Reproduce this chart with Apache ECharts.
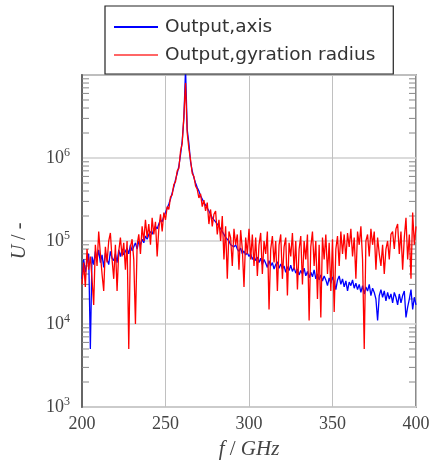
<!DOCTYPE html>
<html><head><meta charset="utf-8">
<script src="https://cdn.jsdelivr.net/npm/echarts@6/dist/echarts.min.js"></script>
<style>html,body{margin:0;padding:0;background:#fff}#c{width:435px;height:465px}</style>
</head><body><div id="c"></div>
<script>
// Frequency grid, GHz (200..400 step 1)
const freqStart = 200, freqStep = 1;
const axisValues = [
3.5e4,6.0e4,4.2e4,5.5e4,7.0e4,5.0e3,6.5e4,5.2e4,7.5e4,6.0e4,
7.8e4,5.5e4,6.8e4,4.8e4,7.2e4,6.0e4,5.2e4,7.5e4,6.2e4,5.8e4,
7.0e4,5.5e4,7.8e4,6.5e4,8.0e4,6.8e4,7.5e4,8.2e4,7.0e4,9.0e4,
7.6e4,8.5e4,9.5e4,8.0e4,1.0e5,9.0e4,1.05e5,9.5e4,1.15e5,1.05e5,
1.2e5,1.3e5,1.2e5,1.4e5,1.5e5,1.4e5,1.6e5,1.8e5,1.7e5,2.0e5,
2.2e5,2.5e5,2.8e5,3.2e5,3.8e5,4.5e5,5.5e5,6.5e5,8.0e5,1.1e6,
1.6e6,3.0e6,1.2e7,2.2e6,1.5e6,9.0e5,7.0e5,5.8e5,5.0e5,4.4e5,
4.0e5,3.5e5,3.2e5,2.9e5,2.7e5,2.5e5,2.3e5,2.2e5,1.9e5,2.0e5,
1.7e5,1.6e5,1.5e5,1.4e5,1.35e5,1.2e5,1.1e5,1.15e5,1.0e5,9.0e4,
9.5e4,8.5e4,9.0e4,8.0e4,7.5e4,8.2e4,7.0e4,7.6e4,6.8e4,7.2e4,
6.5e4,7.0e4,6.0e4,6.6e4,5.8e4,6.4e4,5.5e4,6.2e4,5.2e4,6.0e4,
5.4e4,4.8e4,5.8e4,5.0e4,5.5e4,4.6e4,5.2e4,5.6e4,4.7e4,5.3e4,
4.6e4,5.0e4,4.2e4,4.9e4,4.4e4,5.1e4,4.3e4,4.8e4,4.1e4,4.6e4,
3.9e4,4.4e4,4.0e4,4.7e4,3.8e4,4.3e4,3.6e4,4.2e4,3.7e4,4.5e4,
3.5e4,4.0e4,3.4e4,3.9e4,3.3e4,3.8e4,3.4e4,2.9e4,3.6e4,3.1e4,
3.7e4,3.2e4,2.6e4,3.4e4,3.8e4,3.0e4,3.5e4,2.8e4,3.3e4,2.5e4,
3.2e4,2.9e4,3.4e4,2.7e4,3.1e4,2.6e4,3.0e4,2.4e4,2.9e4,2.3e4,
2.8e4,2.5e4,3.0e4,2.2e4,2.7e4,2.4e4,2.0e4,1.1e4,2.2e4,2.6e4,
2.1e4,2.5e4,1.9e4,2.4e4,2.0e4,2.3e4,1.8e4,2.4e4,2.1e4,1.7e4,
2.3e4,1.8e4,2.2e4,2.5e4,1.2e4,1.6e4,2.0e4,2.6e4,1.5e4,2.1e4,
1.7e4
];
const gyrationValues = [
3.0e4,5.5e4,2.8e4,8.0e4,4.5e4,6.5e4,3.5e4,1.7e4,9.0e4,5.0e4,
1.3e5,7.0e4,4.0e4,2.5e4,8.5e4,5.5e4,1.0e5,1.25e5,6.0e4,3.5e4,
9.0e4,2.5e4,7.5e4,1.1e5,6.5e4,9.5e4,4.5e4,1.0e5,5.0e3,8.5e4,
1.05e5,6.0e4,1.0e4,9.0e4,1.2e5,7.0e4,1.5e5,1.0e5,1.8e5,1.1e5,
1.6e5,9.0e4,1.9e5,1.2e5,1.7e5,6.5e4,1.4e5,2.1e5,1.3e5,2.2e5,
1.8e5,2.6e5,2.4e5,3.4e5,3.6e5,4.8e5,5.2e5,7.0e5,7.5e5,1.2e6,
1.5e6,3.2e6,8.0e6,2.0e6,1.3e6,9.5e5,6.5e5,6.0e5,4.6e5,4.2e5,
3.3e5,3.7e5,2.6e5,3.1e5,2.3e5,2.9e5,1.6e5,2.4e5,1.5e5,2.1e5,
2.3e5,1.2e5,1.8e5,1.0e5,2.0e5,6.0e4,1.5e5,3.5e4,1.3e5,1.1e5,
5.0e4,1.4e5,9.0e4,1.2e5,4.5e4,1.35e5,8.0e4,2.8e4,1.1e5,7.0e4,
1.4e5,6.0e4,1.2e5,5.0e4,1.1e5,3.8e4,9.0e4,1.25e5,4.0e4,1.0e5,
7.0e4,1.3e5,1.5e4,8.0e4,1.15e5,5.5e4,1.0e5,2.5e4,9.0e4,1.2e5,
3.5e4,8.5e4,1.1e5,2.2e4,9.5e4,6.5e4,1.25e5,4.5e4,1.0e5,2.6e4,
8.0e4,1.15e5,3.0e4,1.0e5,6.0e4,1.2e5,1.1e4,8.5e4,1.3e5,5.0e4,
1.0e5,2.0e4,9.0e4,1.2e4,1.1e5,6.0e4,1.2e5,4.0e4,9.5e4,2.5e4,
1.05e5,1.4e4,8.0e4,1.15e5,5.0e4,1.3e5,7.0e4,1.2e5,6.0e4,1.25e5,
8.5e4,1.4e5,6.5e4,1.1e5,3.5e4,1.3e5,9.0e4,1.5e5,6.0e4,5.0e3,
1.0e5,1.2e5,6.5e4,1.4e5,9.0e4,1.3e5,4.5e4,1.1e5,7.0e4,5.0e4,
9.0e4,4.0e4,8.0e4,1.0e5,6.0e4,1.2e5,1.3e5,8.0e4,1.4e5,1.6e5,
7.0e4,1.3e5,4.5e4,1.1e5,1.9e5,6.0e4,1.2e5,3.5e4,2.2e5,9.0e4,
1.5e5
];
const xTicks = [200, 250, 300, 350, 400];
const yMin = 1e3, yMax = 1e7;
const seriesNames = ['Output,axis', 'Output,gyration radius'];

const toPairs = arr => arr.map((v, i) => [freqStart + i * freqStep, v]);
const minorTickVals = [];
for (let e = 3; e < 7; e++) for (let k = 2; k <= 9; k++) minorTickVals.push([200, k * Math.pow(10, e)]);

const serif = 'Liberation Serif';
const chart = echarts.init(document.getElementById('c'), null, {renderer: 'canvas'});
chart.setOption({
  animation: false,
  backgroundColor: '#fff',
  grid: {left: 82, right: 19, top: 75, bottom: 54, show: true, borderColor: '#666', borderWidth: 1.5, backgroundColor: 'transparent'},
  legend: {
    data: seriesNames,
    orient: 'vertical',
    left: 105, top: 6,
    padding: [11, 18, 9, 9],
    itemGap: 8,
    itemWidth: 44, itemHeight: 2,
    icon: 'rect',
    borderColor: '#222', borderWidth: 1.2,
    backgroundColor: '#fff',
    textStyle: {fontFamily: 'DejaVu Sans', fontSize: 18.5, lineHeight: 20, color: '#333', padding: [0, 0, 0, 2]}
  },
  xAxis: {
    type: 'value', min: 200, max: 400, interval: 50,
    name: '{i|f} / {i|GHz}', nameLocation: 'middle', nameGap: 32,
    nameTextStyle: {fontFamily: serif, fontSize: 21, color: '#444', rich: {i: {fontFamily: serif, fontStyle: 'italic', fontSize: 21, color: '#444'}}},
    axisLine: {show: false},
    axisTick: {show: false},
    axisLabel: {fontFamily: serif, fontSize: 18, color: '#444', margin: 8},
    splitLine: {show: true, lineStyle: {color: '#c0c0c0', width: 1}}
  },
  yAxis: {
    type: 'log', logBase: 10, min: yMin, max: yMax,
    name: '{i|U} / -', nameLocation: 'middle', nameGap: 52, nameRotate: 90,
    nameTextStyle: {fontFamily: serif, fontSize: 20, color: '#444', rich: {i: {fontFamily: serif, fontStyle: 'italic', fontSize: 20, color: '#444'}}},
    axisLine: {show: true, lineStyle: {color: '#666', width: 2}},
    axisTick: {show: false},
    axisLabel: {
      fontFamily: serif, fontSize: 18, color: '#444', margin: 12,
      formatter: v => (Math.round(Math.log10(v)) >= 7 ? '' : '10{s|' + Math.round(Math.log10(v)) + '}'),
      rich: {s: {fontFamily: serif, fontSize: 12, color: '#444', padding: [0, 0, 10, 0]}}
    },
    splitLine: {show: true, lineStyle: {color: '#cfcfcf', width: 1.5}}
  },
  series: [
    {
      name: 'minor', type: 'custom', silent: true, legendHoverLink: false, z: 1,
      data: minorTickVals,
      renderItem: (params, api) => {
        const y = api.coord([200, api.value(1)])[1];
        const cs = params.coordSys;
        const st = {stroke: '#888', lineWidth: 1};
        return {type: 'group', children: [
          {type: 'line', shape: {x1: cs.x, y1: y, x2: cs.x + 7, y2: y}, style: st},
          {type: 'line', shape: {x1: cs.x + cs.width - 7, y1: y, x2: cs.x + cs.width, y2: y}, style: st}
        ]};
      }
    },
    {name: seriesNames[0], type: 'line', data: toPairs(axisValues), showSymbol: false, symbol: 'none',
     lineStyle: {color: '#0000ff', width: 1.3}, itemStyle: {color: '#0000ff'}, z: 3, clip: true},
    {name: seriesNames[1], type: 'line', data: toPairs(gyrationValues), showSymbol: false, symbol: 'none',
     lineStyle: {color: '#ff0000', width: 1.3}, itemStyle: {color: '#ff6666'}, z: 4, clip: true}
  ]
});
</script></body></html>
